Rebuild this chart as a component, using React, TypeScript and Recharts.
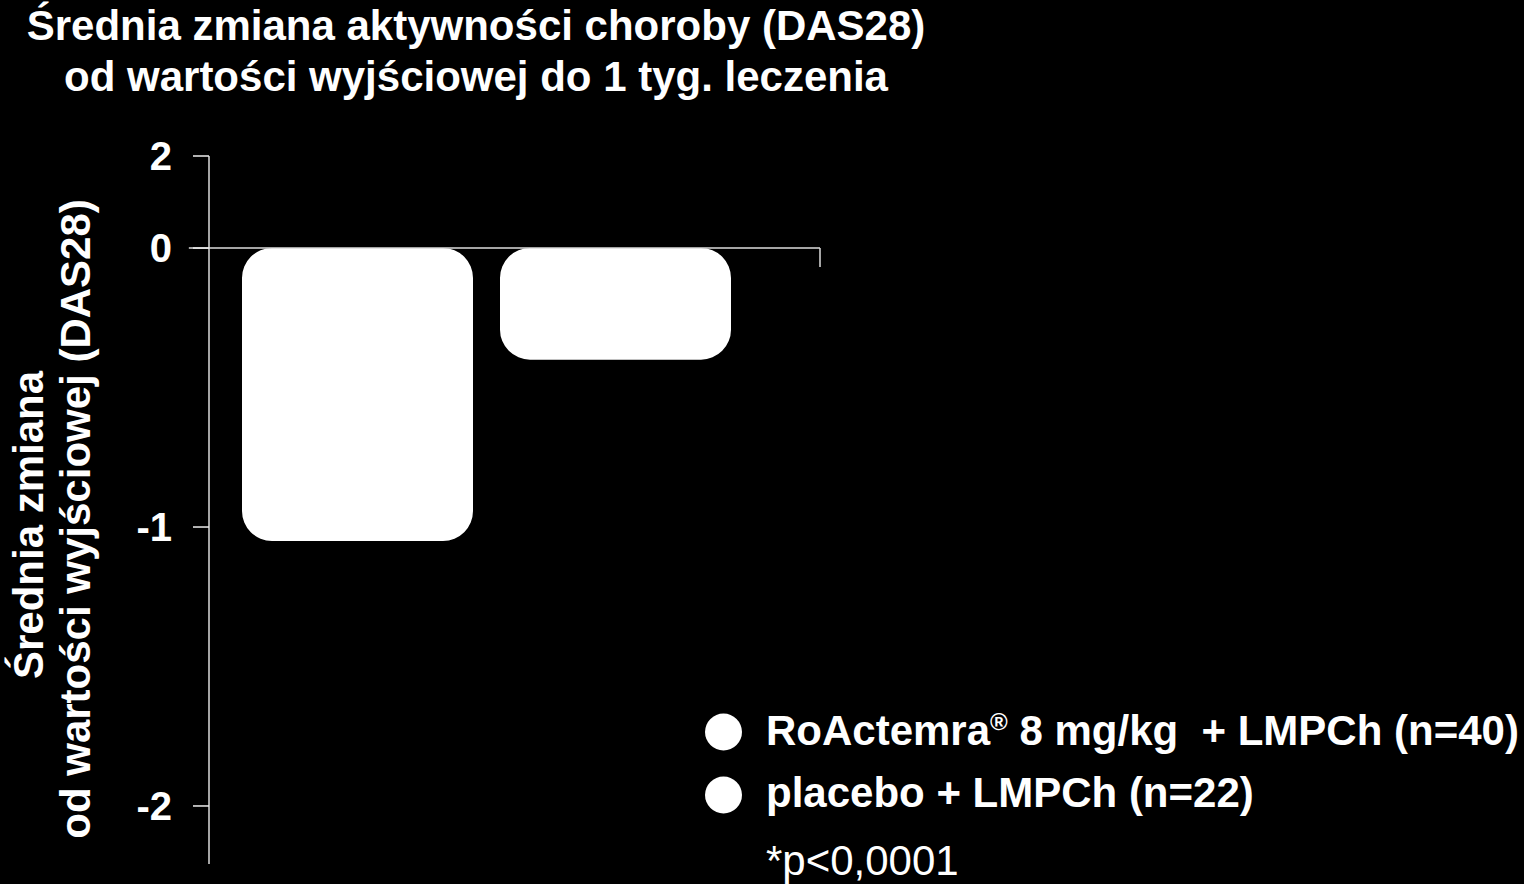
import { BarChart, Bar, XAxis, YAxis, ReferenceLine } from 'recharts';

const FONT = "'Liberation Sans', Arial, Helvetica, sans-serif";

const categories = ['RoActemra 8 mg/kg + LMPCh', 'placebo + LMPCh'];
const meanChange = [-1.05, -0.4];

// the original axis is broken above zero: "2" sits right above the 0 line
const yTickValues = [0.33, 0, -1, -2];
const yTickLabels = ['2', '0', '-1', '-2'];

const titleLines = [
  'Średnia zmiana aktywności choroby (DAS28)',
  'od wartości wyjściowej do 1 tyg. leczenia',
];
const yLabelLines = ['Średnia zmiana', 'od wartości wyjściowej (DAS28)'];

const legendItems = [
  { label: 'RoActemra', mark: '®', rest: ' 8 mg/kg  + LMPCh (n=40)' },
  { label: 'placebo + LMPCh (n=22)', mark: '', rest: '' },
];
const footnote = '*p<0,0001';

const data = categories.map((name, i) => ({ name, value: meanChange[i] }));

const axisStroke = '#dcdcdc';

export default function App() {
  return (
    <div
      style={{
        position: 'fixed', left: 0, top: 0, width: 1524, height: 884,
        background: '#000', overflow: 'hidden',
      }}
    >
      <div style={{ position: 'absolute', left: 0, top: 0 }}>
        <BarChart
          width={1524}
          height={884}
          data={data}
          margin={{ top: 156, right: 704, bottom: 20, left: 129 }}
        >
          <XAxis dataKey="name" hide padding={{ left: 19, right: 76 }} />
          <XAxis xAxisId="edge" type="number" domain={[0, 1]} hide />
          <YAxis
            width={80}
            domain={[-2.208, 0.33]}
            allowDataOverflow
            ticks={yTickValues}
            interval={0}
            tickFormatter={(v: number) => yTickLabels[yTickValues.indexOf(v)]}
            tick={{ fill: '#fff', fontSize: 40, fontWeight: 'bold', fontFamily: FONT }}
            tickSize={16}
            tickMargin={21}
            tickLine={{ stroke: '#eeeeee', strokeWidth: 1.5 }}
            axisLine={{ stroke: axisStroke, strokeWidth: 1.5 }}
          />
          <Bar dataKey="value" fill="#ffffff" barSize={231} radius={30} isAnimationActive={false} />
          <ReferenceLine
            xAxisId="edge"
            ifOverflow="visible"
            segment={[{ x: -0.033, y: 0 }, { x: 1, y: 0 }]}
            stroke={axisStroke}
            strokeWidth={1.5}
          />
          <ReferenceLine
            xAxisId="edge"
            ifOverflow="visible"
            segment={[{ x: 1, y: 0 }, { x: 1, y: -0.068 }]}
            stroke={axisStroke}
            strokeWidth={1.5}
          />
        </BarChart>
      </div>

      <svg
        width={1524}
        height={884}
        style={{ position: 'absolute', left: 0, top: 0, pointerEvents: 'none' }}
      >
        {/* title */}
        <g fill="#fff" fontFamily={FONT} fontWeight="bold" fontSize={42} textAnchor="middle">
          <text x={476} y={40}>{titleLines[0]}</text>
          <text x={476} y={91}>{titleLines[1]}</text>
        </g>

        {/* y axis label */}
        <g fill="#fff" fontFamily={FONT} fontWeight="bold" fontSize={42} textAnchor="middle">
          <text x={43} y={525} transform="rotate(-90, 43, 525)">{yLabelLines[0]}</text>
          <text x={90} y={519} transform="rotate(-90, 90, 519)">{yLabelLines[1]}</text>
        </g>

        {/* legend */}
        <g fill="#fff" fontFamily={FONT} fontSize={42}>
          {legendItems.map((item, i) => (
            <g key={item.label}>
              <circle cx={723.5} cy={732 + i * 63} r={18.5} fill="#fff" />
              <text
                x={766}
                y={745 + i * 62}
                fontWeight="bold"
                xmlSpace="preserve"
                style={{ whiteSpace: 'pre' }}
              >
                {item.label}
                {item.mark && <tspan fontSize={24} dy={-15}>{item.mark}</tspan>}
                {item.rest && <tspan dy={item.mark ? 15 : 0}>{item.rest}</tspan>}
              </text>
            </g>
          ))}
          <text x={766} y={875}>{footnote}</text>
        </g>
      </svg>
    </div>
  );
}
